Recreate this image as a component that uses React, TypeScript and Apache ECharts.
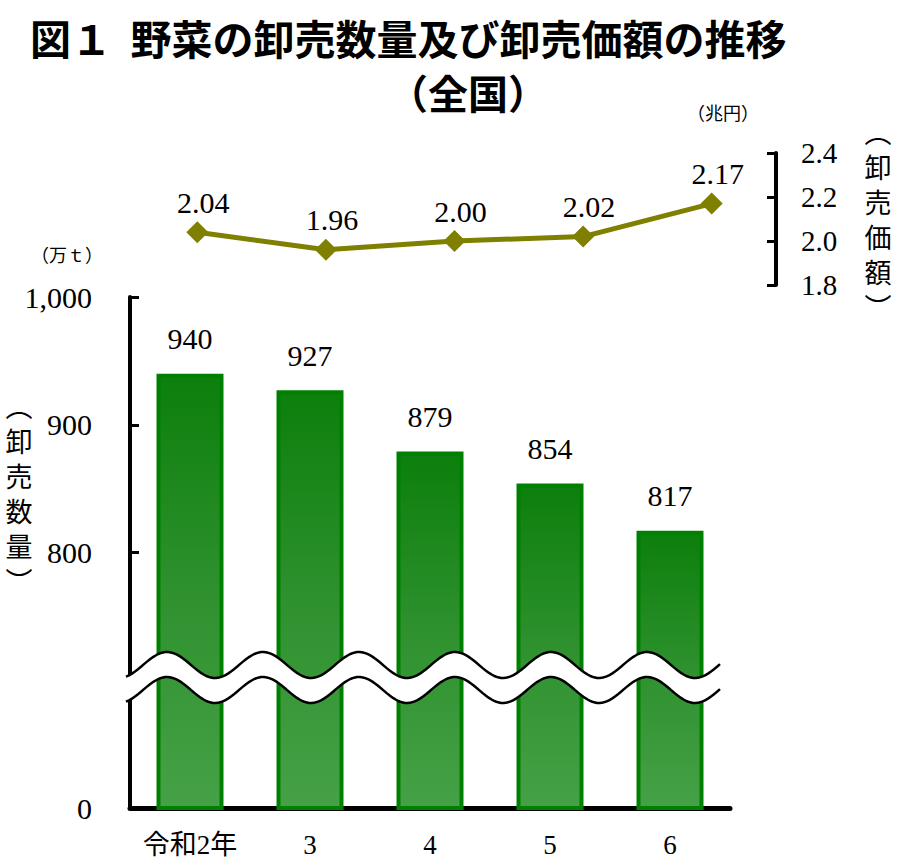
import { useEffect, useRef } from "react";
import * as echarts from "echarts";

const YEARS = ["令和2年", "3", "4", "5", "6"];
const VOLUME = [940, 927, 879, 854, 817]; // 卸売数量（万t）
const VALUE = [2.04, 1.96, 2.0, 2.02, 2.17]; // 卸売価額（兆円）

const SERIF = "Liberation Serif, Noto Sans CJK JP, serif";
const GOTHIC = "Noto Sans CJK JP, sans-serif";
const BAR_EDGE = "#008000";
const LINE = "#808000";

// 波線（省略記号）の座標
function wave(offset: number) {
  const pts: number[][] = [];
  for (let x = 126; x <= 720; x += 3) {
    pts.push([x, 665 + offset - 13 * Math.cos(((x - 167) / 96) * Math.PI * 2)]);
  }
  return pts;
}

export default function App() {
  const elRef = useRef<HTMLDivElement>(null);

  useEffect(() => {
    const el = elRef.current;
    if (!el) return;
    const chart = echarts.init(el, null, { renderer: "svg" });

    const upper = wave(0);
    const lower = wave(25);

    chart.setOption({
      animation: false,
      backgroundColor: "#fff",
      grid: [
        { left: 130, width: 600, top: 297, height: 511 },
        { left: 133, width: 643, top: 153, height: 132 },
      ],
      xAxis: [
        {
          type: "category",
          gridIndex: 0,
          data: YEARS,
          axisLine: { lineStyle: { color: "#000", width: 5 } },
          axisTick: { show: false },
          axisLabel: { color: "#000", fontFamily: SERIF, fontSize: 27, margin: 23, interval: 0 },
        },
        { type: "category", gridIndex: 1, data: YEARS, show: false },
      ],
      yAxis: [
        {
          type: "value",
          gridIndex: 0,
          min: 600,
          max: 1000,
          interval: 100,
          splitLine: { show: false },
          axisLine: { show: true, lineStyle: { color: "#000", width: 4 } },
          axisTick: { show: true, inside: true, length: 9, lineStyle: { color: "#000", width: 3 } },
          axisLabel: {
            color: "#000",
            fontFamily: SERIF,
            fontSize: 30,
            margin: 38,
            formatter: (v: number) =>
              v === 600 ? "0" : v === 700 ? "" : v === 1000 ? "1,000" : String(v),
          },
        },
        {
          type: "value",
          gridIndex: 1,
          position: "right",
          min: 1.8,
          max: 2.4,
          interval: 0.2,
          splitLine: { show: false },
          axisLine: { show: true, lineStyle: { color: "#000", width: 4 } },
          axisTick: { show: true, inside: true, length: 9, lineStyle: { color: "#000", width: 3 } },
          axisLabel: {
            color: "#000",
            fontFamily: SERIF,
            fontSize: 29,
            margin: 25,
            formatter: (v: number) => v.toFixed(1),
          },
        },
      ],
      series: [
        {
          type: "bar",
          xAxisIndex: 0,
          yAxisIndex: 0,
          data: VOLUME,
          barWidth: 67,
          itemStyle: {
            borderColor: BAR_EDGE,
            borderWidth: 4,
            color: new echarts.graphic.LinearGradient(0, 0, 0, 1, [
              { offset: 0, color: "#0c7f0c" },
              { offset: 0.5, color: "#2e912e" },
              { offset: 1, color: "#46a146" },
            ]),
          },
          label: {
            show: true,
            position: "top",
            distance: 20,
            color: "#000",
            fontFamily: SERIF,
            fontSize: 30,
          },
        },
        {
          type: "line",
          xAxisIndex: 1,
          yAxisIndex: 1,
          data: VALUE,
          symbol: "diamond",
          symbolSize: 22,
          lineStyle: { color: LINE, width: 5 },
          itemStyle: { color: LINE },
          label: {
            show: true,
            position: "top",
            distance: 4,
            offset: [6, 0],
            color: "#000",
            fontFamily: SERIF,
            fontSize: 30,
            formatter: (p: { value: number }) => p.value.toFixed(2),
          },
        },
      ],
      graphic: [
        {
          type: "text",
          x: 30,
          y: 37,
          style: {
            text: "図１  野菜の卸売数量及び卸売価額の推移",
            font: `bold 41px ${GOTHIC}`,
            fill: "#000",
            align: "left",
            verticalAlign: "middle",
          },
        },
        {
          type: "text",
          x: 468,
          y: 92,
          style: {
            text: "（全国）",
            font: `bold 40px ${GOTHIC}`,
            fill: "#000",
            align: "center",
            verticalAlign: "middle",
          },
        },
        {
          type: "text",
          x: 723,
          y: 114,
          style: { text: "（兆円）", font: `18px ${SERIF}`, fill: "#000", align: "center", verticalAlign: "middle" },
        },
        {
          type: "text",
          x: 67,
          y: 256,
          style: { text: "（万ｔ）", font: `18px ${SERIF}`, fill: "#000", align: "center", verticalAlign: "middle" },
        },
        {
          type: "text",
          x: 878,
          y: 221,
          style: {
            text: "︵\n卸\n売\n価\n額\n︶",
            font: `27px ${SERIF}`,
            lineHeight: 35,
            fill: "#000",
            align: "center",
            verticalAlign: "middle",
          },
        },
        {
          type: "text",
          x: 19,
          y: 495,
          style: {
            text: "︵\n卸\n売\n数\n量\n︶",
            font: `27px ${SERIF}`,
            lineHeight: 35,
            fill: "#000",
            align: "center",
            verticalAlign: "middle",
          },
        },
        {
          type: "polygon",
          z: 100,
          shape: { points: [...upper, ...lower.slice().reverse()] },
          style: { fill: "#fff", stroke: "none" },
        },
        {
          type: "polyline",
          z: 101,
          shape: { points: upper },
          style: { stroke: "#000", lineWidth: 2.5, fill: "none" },
        },
        {
          type: "polyline",
          z: 101,
          shape: { points: lower },
          style: { stroke: "#000", lineWidth: 2.5, fill: "none" },
        },
      ],
    });

    return () => chart.dispose();
  }, []);

  return <div ref={elRef} style={{ position: "fixed", left: 0, top: 0, width: 901, height: 867 }} />;
}
